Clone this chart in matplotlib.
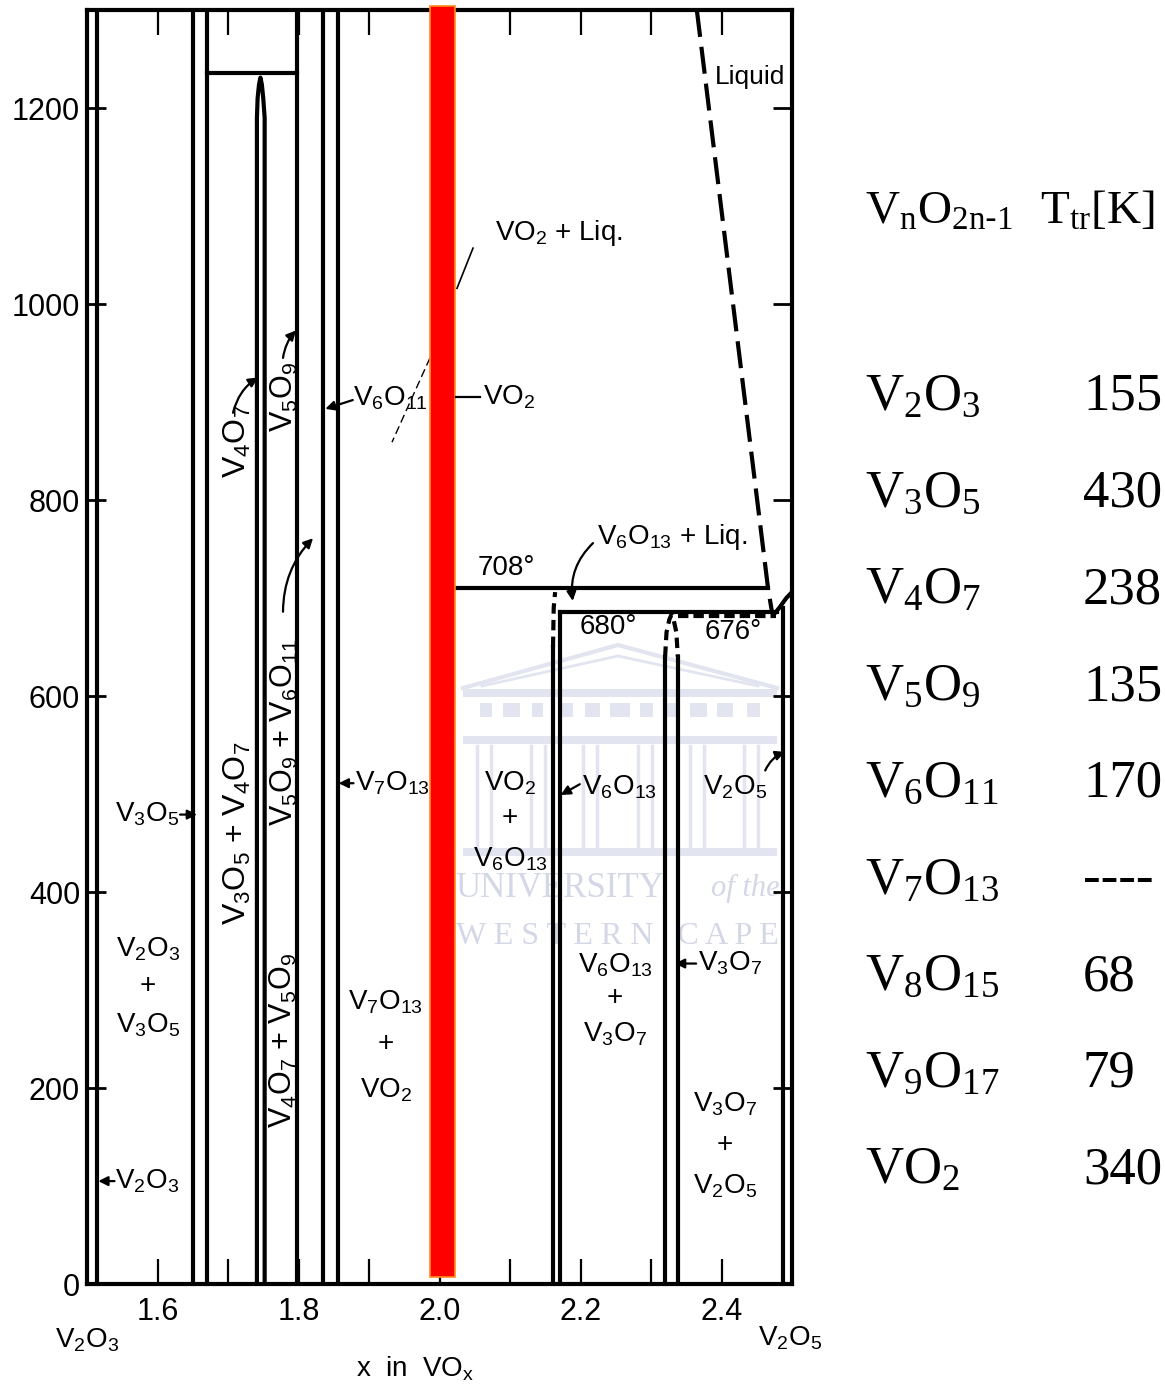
import matplotlib
matplotlib.use('Agg')
import matplotlib.pyplot as plt
from matplotlib.patches import Rectangle

plt.rcParams['mathtext.default'] = 'regular'
SANS = ['Liberation Sans', 'DejaVu Sans']
SERIF = ['Liberation Serif', 'DejaVu Serif']

# phase boundaries of the V-O system, x in VOx, T in deg C
full_lines = [1.514, 1.650, 1.670, 1.798, 1.835, 1.856]
v4o7_x = [1.741, 1.741, 1.742, 1.744, 1.746, 1.748, 1.750, 1.752, 1.752]
v4o7_t = [0, 1190, 1210, 1224, 1231, 1224, 1210, 1190, 0]
peri_x = [1.670, 1.798]
peri_t = 1236

vo2_x = [1.9865, 2.022]
vo2_t = [7, 1304]

t708_x = [2.022, 2.466]
t708 = 710
t680_x = [2.171, 2.479]
t680 = 686
t676_x = [2.338, 2.478]
t676 = 682

v6o13_out_x = [2.161, 2.161]
v6o13_out_t = [0, 650]
v6o13_top_x = [2.161, 2.162, 2.164]
v6o13_top_t = [650, 690, 706]
v6o13_in_x = [2.171, 2.171]
v6o13_in_t = [0, 686]

v3o7_left = 2.320
v3o7_right = 2.338
v3o7_t = [0, 640]
v3o7_dome_x = [2.320, 2.322, 2.326, 2.329, 2.332, 2.336, 2.338]
v3o7_dome_t = [640, 665, 678, 683, 678, 665, 640]

v2o5_x = [2.487, 2.487]
v2o5_t = [0, 690]
v2o5_top_x = [2.474, 2.482, 2.492, 2.500]
v2o5_top_t = [683, 690, 700, 706]

liq_x = [2.365, 2.466, 2.472]
liq_t = [1300, 710, 684]

xticks = [1.6, 1.8, 2.0, 2.2, 2.4]
xminor = [1.7, 1.9, 2.1, 2.3]
yticks = [0, 200, 400, 600, 800, 1000, 1200]

# table of metal-insulator transition temperatures
table_names = ['V$_2$O$_3$', 'V$_3$O$_5$', 'V$_4$O$_7$', 'V$_5$O$_9$', 'V$_6$O$_{11}$',
               'V$_7$O$_{13}$', 'V$_8$O$_{15}$', 'V$_9$O$_{17}$', 'VO$_2$']
table_ttr = ['155', '430', '238', '135', '170', '----', '68', '79', '340']

W, H = 1165, 1390
fig = plt.figure(figsize=(W / 100, H / 100), dpi=100)
ax = fig.add_axes([87 / W, 1 - 1284 / H, 705 / W, 1274 / H])
ax.set_xlim(1.5, 2.5)
ax.set_ylim(0, 1300)


def px(x, y):
    # pixel position of the reference picture -> data coordinates
    return 1.5 + (x - 87) / 705, (1284 - y) * 1300 / 1274


# faint watermark building behind the diagram
wm = '#e2e5f0'
roof = [px(463, 688), px(618, 645), px(777, 688)]
ax.plot(*zip(*roof), color=wm, lw=3, zorder=0)
roof2 = [px(482, 686), px(618, 656), px(758, 686)]
ax.plot(*zip(*roof2), color=wm, lw=2, zorder=0)
for y0, y1 in [(689, 697), (736, 744), (848, 856)]:
    x0, t0 = px(463, y1)
    x1, t1 = px(777, y0)
    ax.add_patch(Rectangle((x0, t0), x1 - x0, t1 - t0, color=wm, lw=0, zorder=0))
for a, b in [(480, 492), (503, 520), (532, 543), (560, 573), (585, 600), (610, 630),
             (640, 653), (663, 677), (690, 707), (717, 733), (747, 760)]:
    x0, t0 = px(a, 717)
    x1, t1 = px(b, 703)
    ax.add_patch(Rectangle((x0, t0), x1 - x0, t1 - t0, color=wm, lw=0, zorder=0))
for c in [484, 538, 590, 645, 697, 751]:
    for d in (-7, 7):
        xa, ta = px(c + d, 746)
        xb, tb = px(c + d, 848)
        ax.plot([xa, xb], [ta, tb], color=wm, lw=2.5, zorder=0)

lw = 3.0
k = 'black'
for x in full_lines:
    ax.plot([x, x], [0, 1300], color=k, lw=lw, solid_capstyle='butt')
ax.plot(v4o7_x, v4o7_t, color=k, lw=lw)
ax.plot(peri_x, [peri_t, peri_t], color=k, lw=lw)
ax.add_patch(Rectangle((vo2_x[0], vo2_t[0]), vo2_x[1] - vo2_x[0], vo2_t[1] - vo2_t[0],
                       facecolor='#ff0000', edgecolor='#ff8c1a', lw=1.2,
                       clip_on=False, zorder=6))
ax.plot(t708_x, [t708, t708], color=k, lw=lw)
ax.plot(t680_x, [t680, t680], color=k, lw=lw)
ax.plot(t676_x, [t676, t676], color=k, lw=lw, linestyle=(0, (2.5, 1.2)))
ax.plot(v6o13_out_x, v6o13_out_t, color=k, lw=lw)
ax.plot(v6o13_top_x, v6o13_top_t, color=k, lw=lw, linestyle=(0, (2.5, 1.5)))
ax.plot(v6o13_in_x, v6o13_in_t, color=k, lw=lw)
ax.plot([v3o7_left, v3o7_left], v3o7_t, color=k, lw=lw)
ax.plot([v3o7_right, v3o7_right], v3o7_t, color=k, lw=lw)
ax.plot(v3o7_dome_x, v3o7_dome_t, color=k, lw=lw, linestyle=(0, (2.5, 1.5)))
ax.plot(v2o5_x, v2o5_t, color=k, lw=lw)
ax.plot(v2o5_top_x, v2o5_top_t, color=k, lw=lw)
ax.plot(liq_x, liq_t, color=k, lw=lw, linestyle=(0, (6.5, 2.4)))

for s in ax.spines.values():
    s.set_linewidth(3)

ax.set_xticks(xticks)
ax.set_xticks(xminor, minor=True)
ax.set_xticklabels([f'{v:.1f}' for v in xticks])
ax.set_yticks(yticks)
ax.set_yticklabels([str(v) for v in yticks])
ax.tick_params(axis='x', which='both', direction='in', top=True, length=18, width=1.6,
               pad=9, labelsize=22)
ax.tick_params(axis='y', direction='in', right=True, length=14, width=2,
               pad=5, labelsize=22)
for lab in ax.get_xticklabels() + ax.get_yticklabels():
    lab.set_family(SANS)

fs = 20


def lbl(x, y, s, **kw):
    opts = dict(fontsize=fs, family=SANS, ha='center', va='center', zorder=7)
    opts.update(kw)
    ax.text(x, y, s, **opts)


def arrow(tip, tail, rad=0.0):
    ax.annotate('', xy=tip, xytext=tail, zorder=7,
                arrowprops=dict(arrowstyle='-|>', lw=1.6, color=k, mutation_scale=14,
                                shrinkA=0, shrinkB=0,
                                connectionstyle=f'arc3,rad={rad}'))


# watermark text
wmt = '#d3d7e6'
ax.text(2.022, 404, 'UNIVERSITY', fontsize=25, family=SERIF, color=wmt, va='center', zorder=1)
ax.text(2.385, 404, 'of the', fontsize=22, family=SERIF, style='italic', color=wmt,
        va='center', zorder=1)
ax.text(2.252, 355, 'W E S T E R N   C A P E', fontsize=23, family=SERIF, color=wmt,
        ha='center', va='center', zorder=1)

# region labels
lbl(1.5865, 342, 'V$_2$O$_3$')
lbl(1.5865, 304, '+')
lbl(1.5865, 264, 'V$_3$O$_5$')
lbl(1.540, 105, 'V$_2$O$_3$', ha='left')
arrow((1.516, 105), (1.539, 105))
lbl(1.540, 479, 'V$_3$O$_5$', ha='left')
arrow((1.656, 479), (1.632, 479))

lbl(1.713, 860, 'V$_4$O$_7$', rotation=90, fontsize=23)
lbl(1.713, 460, 'V$_3$O$_5$ + V$_4$O$_7$', rotation=90, fontsize=23)
lbl(1.780, 905, 'V$_5$O$_9$', rotation=90, fontsize=22)
lbl(1.780, 563, 'V$_5$O$_9$ + V$_6$O$_{11}$', rotation=90, fontsize=22)
lbl(1.779, 249, 'V$_4$O$_7$ + V$_5$O$_9$', rotation=90, fontsize=22)
arrow((1.7426, 925), (1.7071, 889), rad=-0.2)
arrow((1.7965, 973), (1.778, 945), rad=-0.15)
arrow((1.8206, 761), (1.778, 686), rad=-0.2)

lbl(1.878, 904, 'V$_6$O$_{11}$', ha='left')
arrow((1.838, 893), (1.877, 902))
ax.plot([1.9865, 1.9326], [945, 859], color=k, lw=1.0, linestyle=(0, (6, 3)), zorder=5)
lbl(1.880, 511, 'V$_7$O$_{13}$', ha='left')
arrow((1.857, 511), (1.878, 511))
lbl(1.924, 287, 'V$_7$O$_{13}$')
lbl(1.924, 245, '+')
lbl(1.924, 198, 'VO$_2$')

lbl(2.079, 1072, 'VO$_2$ + Liq.', ha='left')
ax.plot([2.0475, 2.0248], [1057, 1016], color=k, lw=1.2, zorder=7)
lbl(2.061, 905, 'VO$_2$', ha='left')
ax.plot([2.023, 2.058], [905, 905], color=k, lw=1.6, zorder=7)
lbl(2.0546, 731, '708°', ha='left')
lbl(2.2234, 762, 'V$_6$O$_{13}$ + Liq.', ha='left')
arrow((2.189, 697), (2.2177, 756), rad=0.25)
lbl(2.199, 670, '680°', ha='left')
lbl(2.3766, 665, '676°', ha='left')

lbl(2.100, 511, 'VO$_2$')
lbl(2.100, 476, '+')
lbl(2.100, 433, 'V$_6$O$_{13}$')
lbl(2.202, 507, 'V$_6$O$_{13}$', ha='left')
arrow((2.172, 499), (2.199, 510))
lbl(2.419, 507, 'V$_2$O$_5$')
arrow((2.490, 543), (2.462, 524), rad=-0.2)

lbl(2.249, 325, 'V$_6$O$_{13}$')
lbl(2.249, 292, '+')
lbl(2.249, 255, 'V$_3$O$_7$')
lbl(2.367, 327, 'V$_3$O$_7$', ha='left')
arrow((2.334, 327), (2.364, 327))
lbl(2.405, 183, 'V$_3$O$_7$')
lbl(2.405, 142, '+')
lbl(2.405, 100, 'V$_2$O$_5$')

lbl(2.390, 1232, 'Liquid', ha='left', fontsize=19)

lbl(1.500, -57, 'V$_2$O$_3$', clip_on=False)
lbl(2.497, -55, 'V$_2$O$_5$', clip_on=False)
lbl(1.965, -86, 'x  in  VO$_x$', clip_on=False)

# right-hand table


def ftext(x, y, s, size=38, **kw):
    fig.text(x / W, 1 - y / H, s, fontsize=size, family=SERIF, va='baseline', **kw)


ftext(865, 224, r'V$_n$O$_{2n\text{-}1}$', size=34)
ftext(1040, 224, 'T$_{tr}$[K]', size=34)
row0, step = 410, 96.7
for i, (name, val) in enumerate(zip(table_names, table_ttr)):
    ftext(865, row0 + i * step, name)
    ftext(1083, row0 + i * step, val)

fig.savefig('out.png', dpi=100)
